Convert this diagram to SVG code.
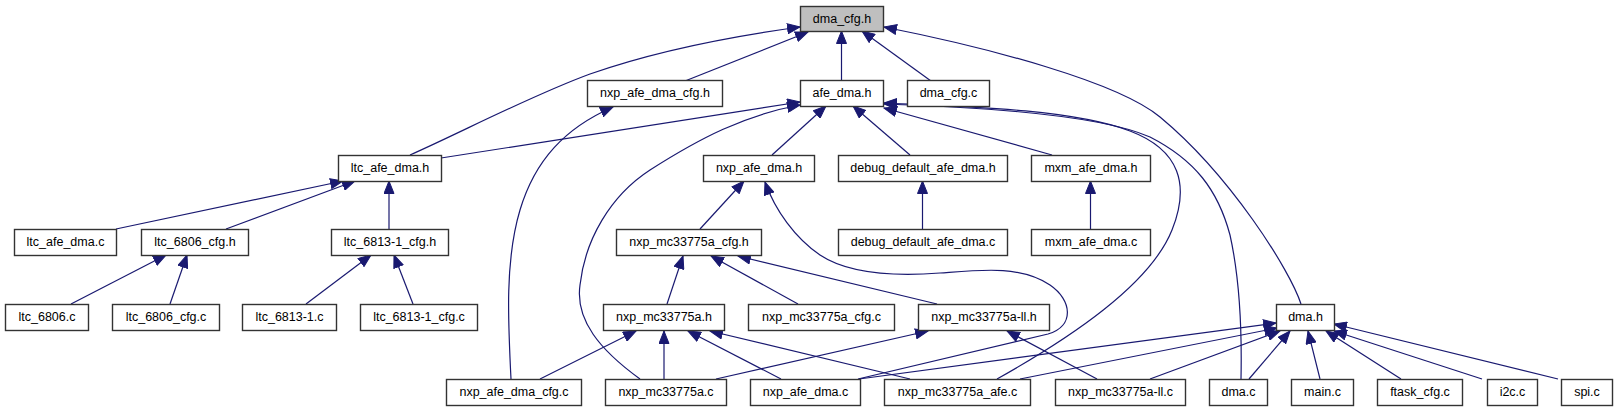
<svg xmlns="http://www.w3.org/2000/svg" width="1617" height="411" viewBox="0 0 1617 411">
<defs>
<style>
.n rect{fill:#ffffff;stroke:#333333;stroke-width:1.4}
.n text{font-family:"Liberation Sans",Arial,sans-serif;font-size:12.5px;fill:#000000;text-anchor:middle}
#node_dma_cfg_h rect{fill:#bfbfbf}
.e path{fill:none;stroke:#191970;stroke-width:1.2;marker-end:url(#ah)}
</style>
<marker id="ah" markerUnits="userSpaceOnUse" markerWidth="14" markerHeight="11" viewBox="0 0 14 11" refX="13" refY="5.5" orient="auto">
<path d="M0.5,0.5 L13,5.5 L0.5,10.5 Z" fill="#191970" stroke="#191970" stroke-width="1"/>
</marker>
</defs>
<rect width="1617" height="411" fill="#ffffff"/>
<g id="edges" class="e">
<path d="M410,155 C460,133 530,96 590,74 C650,53 720,38 800,27"/>
<path d="M685,81 L808,32"/>
<path d="M841.5,81 L841.5,31"/>
<path d="M931,81 L862,31"/>
<path d="M1301,304 C1290,270 1230,175 1160,117 C1118,82 990,48 884,27"/>
<path d="M441,158 L800,102"/>
<path d="M640,379 C600,350 575,320 580,285 C585,240 610,196 650,170 C700,138 745,115 800,105"/>
<path d="M772,155 L826,106"/>
<path d="M910,155 L853,106"/>
<path d="M1052,155 L884,108"/>
<path d="M997,379 C1070,338 1150,285 1172,230 C1190,185 1180,150 1130,131 C1070,108 950,106 884,103"/>
<path d="M1241,379 C1242,330 1240,280 1230,235 C1218,190 1195,160 1150,137 C1100,115 980,107 884,104"/>
<path d="M116,229 L343,181"/>
<path d="M226,229 L355,181"/>
<path d="M389,229 L389,181"/>
<path d="M71,304 L166,255"/>
<path d="M170,304 L187,255"/>
<path d="M306,304 L371,255"/>
<path d="M413,304 L394,255"/>
<path d="M511,379 C508,320 505,260 520,210 C535,160 565,128 613,107"/>
<path d="M700,229 L744,181"/>
<path d="M858,379 L1048,334 C1075,326 1072,300 1050,285 C1020,265 980,270 940,273 C900,276 850,275 820,255 C795,238 775,210 765,182"/>
<path d="M667,304 L683,256"/>
<path d="M798,304 L711,256"/>
<path d="M937,304 L738,256"/>
<path d="M540,379 L636,331"/>
<path d="M664,379 L664,331"/>
<path d="M781,379 L688,331"/>
<path d="M910,379 L710,331"/>
<path d="M716,379 L928,331"/>
<path d="M1097,379 L1007,331"/>
<path d="M859,379 L1276,323"/>
<path d="M1020,379 L1277,328"/>
<path d="M1150,379 L1280,331"/>
<path d="M1249,379 L1290,331"/>
<path d="M1320,379 L1308,331"/>
<path d="M1401,379 L1326,331"/>
<path d="M1482,379 L1334,331"/>
<path d="M1558,379 L1334,324"/>
<path d="M922.5,229 L922.5,181"/>
<path d="M1090.5,229 L1090.5,181"/>
</g>
<g id="node_dma_cfg_h" class="n"><rect x="800.5" y="6.5" width="83" height="25"/><text x="842" y="22.5">dma_cfg.h</text></g>
<g id="node_nxp_afe_dma_cfg_h" class="n"><rect x="587.5" y="80.5" width="135" height="26"/><text x="655" y="97">nxp_afe_dma_cfg.h</text></g>
<g id="node_afe_dma_h" class="n"><rect x="800.5" y="80.5" width="83" height="26"/><text x="842" y="97">afe_dma.h</text></g>
<g id="node_dma_cfg_c" class="n"><rect x="907.5" y="80.5" width="82" height="26"/><text x="948.5" y="97">dma_cfg.c</text></g>
<g id="node_ltc_afe_dma_h" class="n"><rect x="338.5" y="155.5" width="103" height="26"/><text x="390" y="172">ltc_afe_dma.h</text></g>
<g id="node_nxp_afe_dma_h" class="n"><rect x="703.5" y="155.5" width="111" height="26"/><text x="759" y="172">nxp_afe_dma.h</text></g>
<g id="node_debug_default_afe_dma_h" class="n"><rect x="838.5" y="155.5" width="169" height="26"/><text x="923" y="172">debug_default_afe_dma.h</text></g>
<g id="node_mxm_afe_dma_h" class="n"><rect x="1031.5" y="155.5" width="119" height="26"/><text x="1091" y="172">mxm_afe_dma.h</text></g>
<g id="node_ltc_afe_dma_c" class="n"><rect x="14.5" y="229.5" width="102" height="26"/><text x="65.5" y="246">ltc_afe_dma.c</text></g>
<g id="node_ltc_6806_cfg_h" class="n"><rect x="141.5" y="229.5" width="107" height="26"/><text x="195" y="246">ltc_6806_cfg.h</text></g>
<g id="node_ltc_6813_1_cfg_h" class="n"><rect x="331.5" y="229.5" width="117" height="26"/><text x="390" y="246">ltc_6813-1_cfg.h</text></g>
<g id="node_nxp_mc33775a_cfg_h" class="n"><rect x="616.5" y="229.5" width="145" height="26"/><text x="689" y="246">nxp_mc33775a_cfg.h</text></g>
<g id="node_debug_default_afe_dma_c" class="n"><rect x="838.5" y="229.5" width="169" height="26"/><text x="923" y="246">debug_default_afe_dma.c</text></g>
<g id="node_mxm_afe_dma_c" class="n"><rect x="1031.5" y="229.5" width="119" height="26"/><text x="1091" y="246">mxm_afe_dma.c</text></g>
<g id="node_ltc_6806_c" class="n"><rect x="5.5" y="304.5" width="83" height="26"/><text x="47" y="321">ltc_6806.c</text></g>
<g id="node_ltc_6806_cfg_c" class="n"><rect x="112.5" y="304.5" width="107" height="26"/><text x="166" y="321">ltc_6806_cfg.c</text></g>
<g id="node_ltc_6813_1_c" class="n"><rect x="242.5" y="304.5" width="94" height="26"/><text x="289.5" y="321">ltc_6813-1.c</text></g>
<g id="node_ltc_6813_1_cfg_c" class="n"><rect x="360.5" y="304.5" width="117" height="26"/><text x="419" y="321">ltc_6813-1_cfg.c</text></g>
<g id="node_nxp_mc33775a_h" class="n"><rect x="603.5" y="304.5" width="121" height="26"/><text x="664" y="321">nxp_mc33775a.h</text></g>
<g id="node_nxp_mc33775a_cfg_c" class="n"><rect x="748.5" y="304.5" width="146" height="26"/><text x="821.5" y="321">nxp_mc33775a_cfg.c</text></g>
<g id="node_nxp_mc33775a_ll_h" class="n"><rect x="918.5" y="304.5" width="131" height="26"/><text x="984" y="321">nxp_mc33775a-ll.h</text></g>
<g id="node_dma_h" class="n"><rect x="1276.5" y="304.5" width="58" height="26"/><text x="1305.5" y="321">dma.h</text></g>
<g id="node_nxp_afe_dma_cfg_c" class="n"><rect x="446.5" y="379.5" width="135" height="26"/><text x="514" y="396">nxp_afe_dma_cfg.c</text></g>
<g id="node_nxp_mc33775a_c" class="n"><rect x="605.5" y="379.5" width="121" height="26"/><text x="666" y="396">nxp_mc33775a.c</text></g>
<g id="node_nxp_afe_dma_c" class="n"><rect x="750.5" y="379.5" width="110" height="26"/><text x="805.5" y="396">nxp_afe_dma.c</text></g>
<g id="node_nxp_mc33775a_afe_c" class="n"><rect x="884.5" y="379.5" width="146" height="26"/><text x="957.5" y="396">nxp_mc33775a_afe.c</text></g>
<g id="node_nxp_mc33775a_ll_c" class="n"><rect x="1055.5" y="379.5" width="130" height="26"/><text x="1120.5" y="396">nxp_mc33775a-ll.c</text></g>
<g id="node_dma_c" class="n"><rect x="1209.5" y="379.5" width="58" height="26"/><text x="1238.5" y="396">dma.c</text></g>
<g id="node_main_c" class="n"><rect x="1291.5" y="379.5" width="62" height="26"/><text x="1322.5" y="396">main.c</text></g>
<g id="node_ftask_cfg_c" class="n"><rect x="1377.5" y="379.5" width="85" height="26"/><text x="1420" y="396">ftask_cfg.c</text></g>
<g id="node_i2c_c" class="n"><rect x="1487.5" y="379.5" width="50" height="26"/><text x="1512.5" y="396">i2c.c</text></g>
<g id="node_spi_c" class="n"><rect x="1561.5" y="379.5" width="51" height="26"/><text x="1587" y="396">spi.c</text></g>
</svg>
